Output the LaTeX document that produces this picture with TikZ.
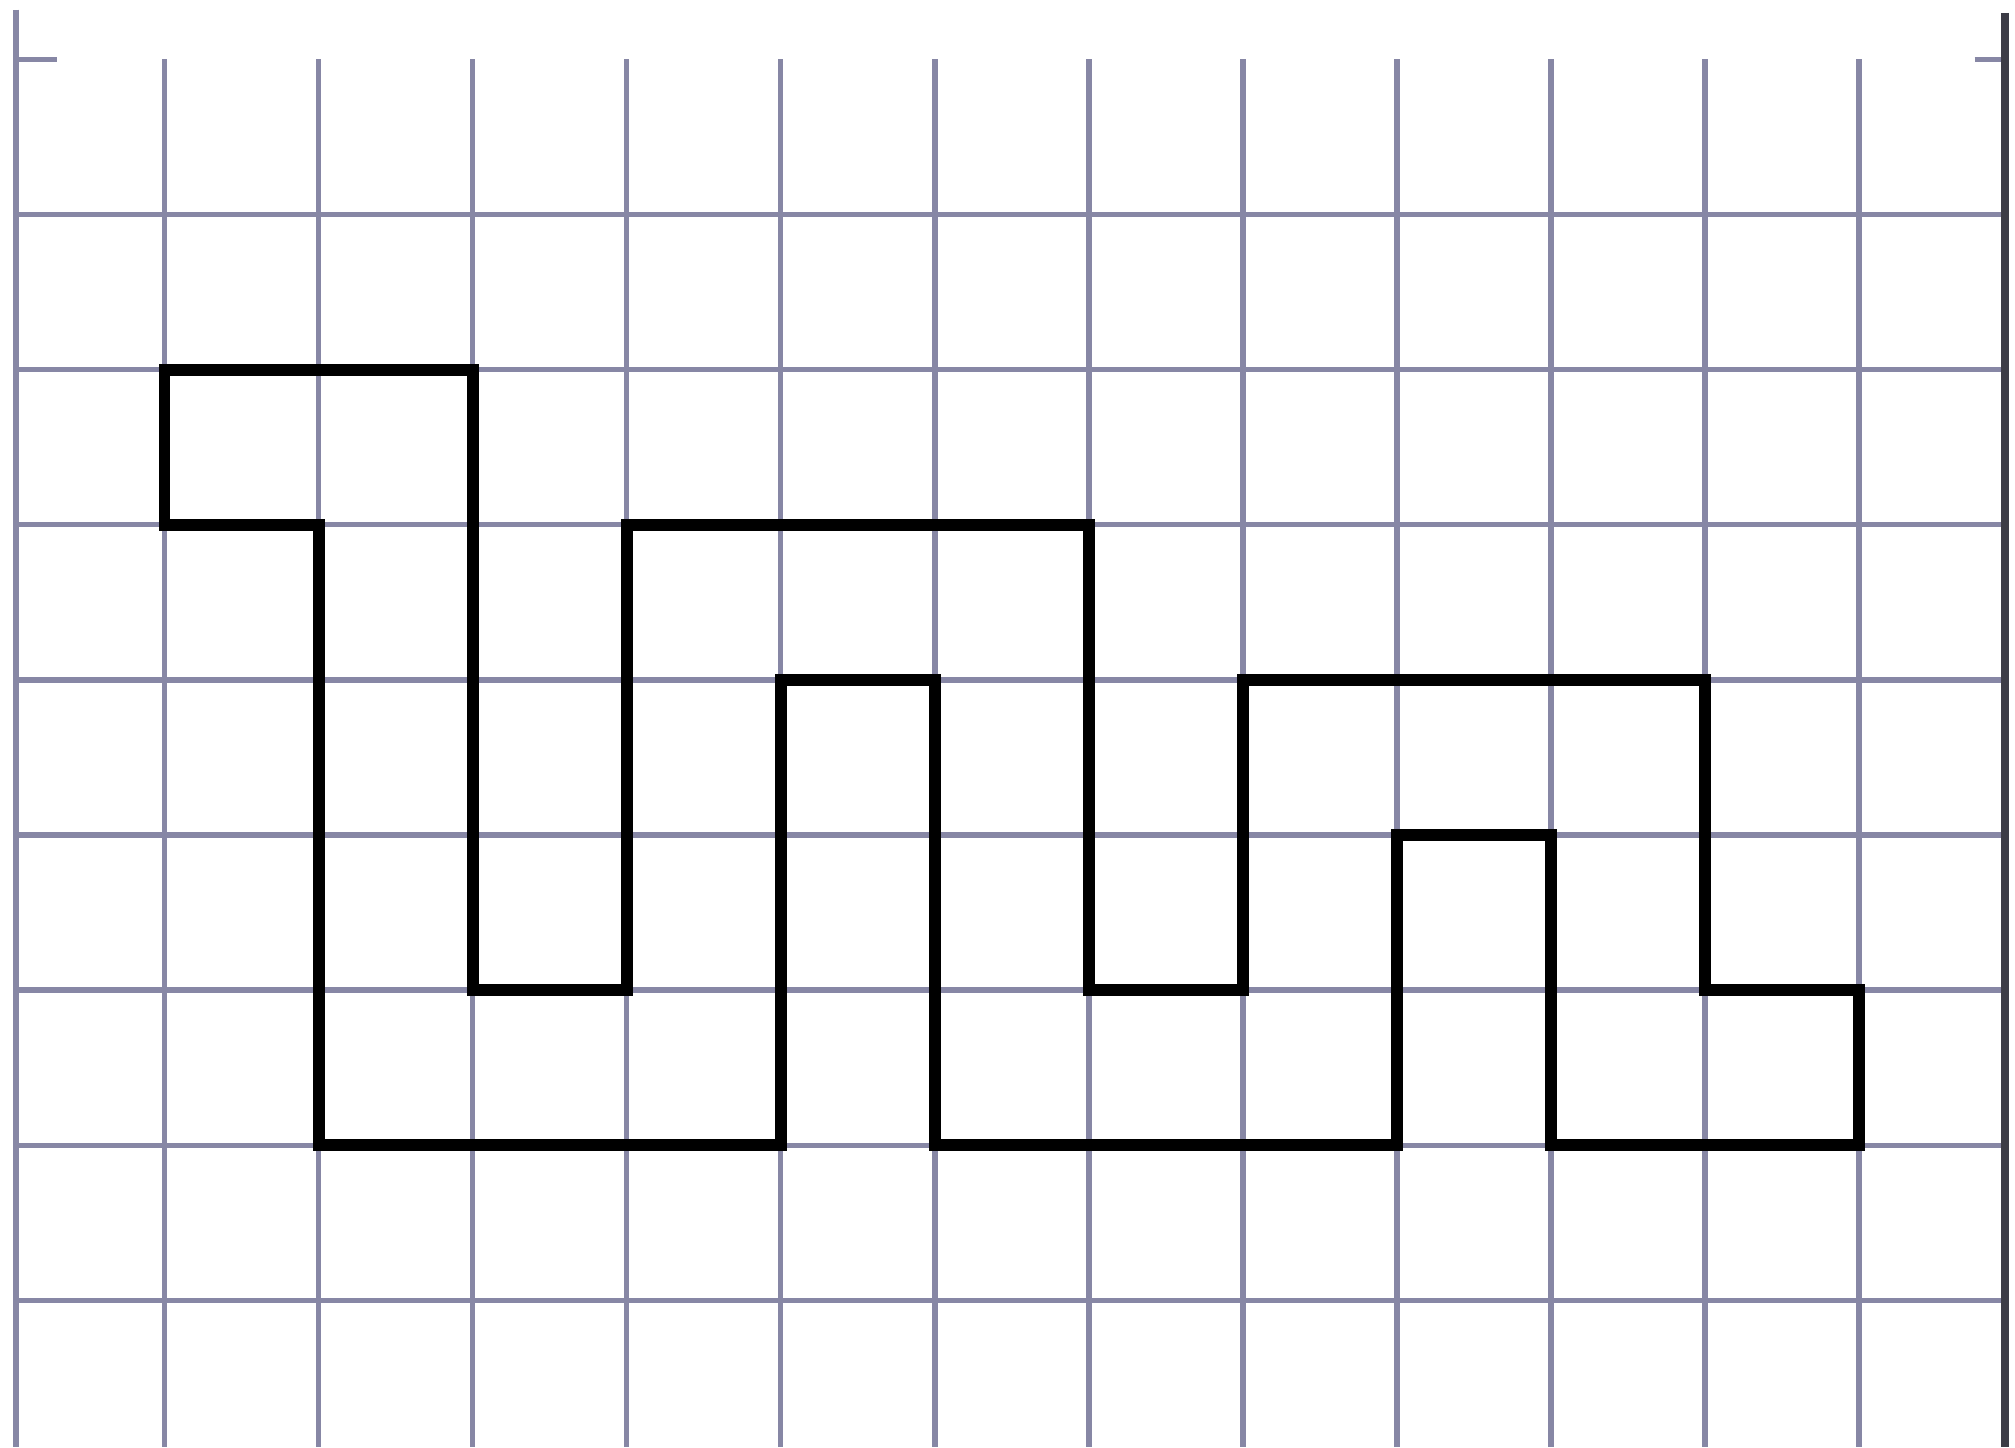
\documentclass[tikz,border=0pt]{standalone}
\begin{document}
\begin{tikzpicture}[x=1cm,y=-1.007cm,
  gridline/.style={line width=1.0pt,color={rgb,255:red,135;green,135;blue,165}},
  edgeline/.style={line width=1.4pt,color={rgb,255:red,60;green,60;blue,70}},
  figline/.style={line width=2.2pt,black,line join=miter}]
\useasboundingbox[fill=white] (-0.068,-0.383) rectangle (13.012,8.947);
% horizontal grid lines
\foreach \h in {1,...,8} \draw[gridline] (0.035,\h) -- (12.945,\h);
% vertical grid lines
\foreach \v in {1,...,12} \draw[gridline] (\v,0) -- (\v,8.947);
% left edge and corner ticks
\draw[gridline] (0.035,-0.32) -- (0.035,8.947);
\draw[gridline] (0.035,0) -- (0.3,0);
\draw[gridline] (12.75,0) -- (12.945,0);
% right edge
\draw[edgeline] (12.945,-0.3) -- (12.945,8.947);
% figure
\draw[figline] (1,2) -- (3,2) -- (3,6) -- (4,6) -- (4,3) -- (7,3) -- (7,6)
  -- (8,6) -- (8,4) -- (11,4) -- (11,6) -- (12,6) -- (12,7) -- (10,7)
  -- (10,5) -- (9,5) -- (9,7) -- (6,7) -- (6,4) -- (5,4) -- (5,7)
  -- (2,7) -- (2,3) -- (1,3) -- cycle;
\end{tikzpicture}
\end{document}
